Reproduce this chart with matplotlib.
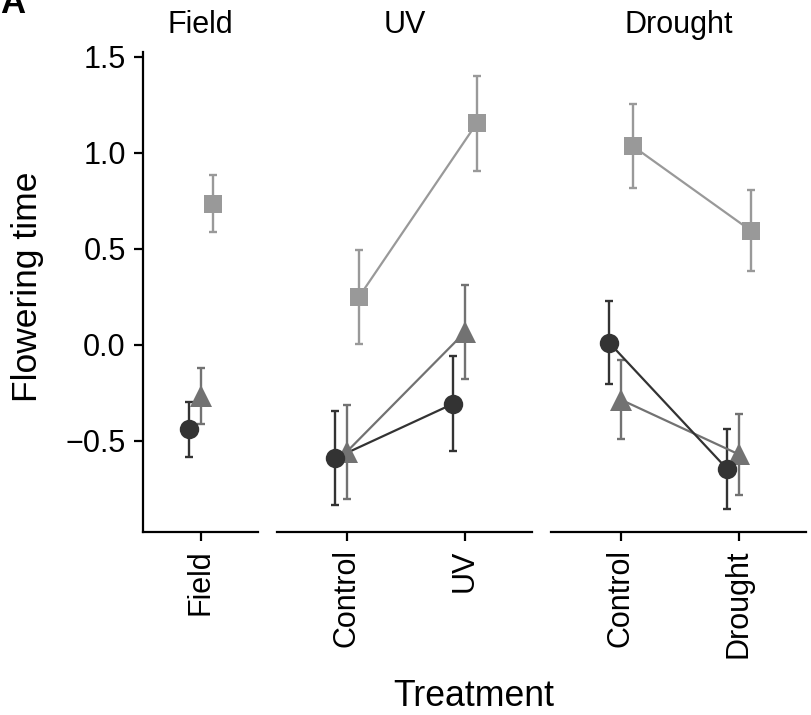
import matplotlib
matplotlib.use("Agg")
import matplotlib.pyplot as plt

plt.rcParams['font.family'] = ['Liberation Sans', 'DejaVu Sans']

# ---- data ----
panels = ["Field", "UV", "Drought"]
panel_categories = {
    "Field": ["Field"],
    "UV": ["Control", "UV"],
    "Drought": ["Control", "Drought"],
}
series_names = ["circle", "triangle", "square"]

circle_mean = {"Field": [-0.44], "UV": [-0.59, -0.306], "Drought": [0.012, -0.646]}
circle_err = {"Field": [0.145], "UV": [0.245, 0.247], "Drought": [0.217, 0.21]}
triangle_mean = {"Field": [-0.265], "UV": [-0.555, 0.067], "Drought": [-0.285, -0.57]}
triangle_err = {"Field": [0.145], "UV": [0.245, 0.245], "Drought": [0.205, 0.21]}
square_mean = {"Field": [0.735], "UV": [0.249, 1.155], "Drought": [1.036, 0.596]}
square_err = {"Field": [0.148], "UV": [0.245, 0.248], "Drought": [0.217, 0.21]}

y_ticks = [-0.5, 0.0, 0.5, 1.0, 1.5]
y_tick_labels = ["\u22120.5", "0.0", "0.5", "1.0", "1.5"]

# ---- style ----
W, H = 811, 715
fig = plt.figure(figsize=(W / 100, H / 100), dpi=100)

styles = {
    "triangle": dict(color="#727272", marker="^", ms=16, offset=0.0),
    "square": dict(color="#999999", marker="s", ms=13.5, offset=0.1),
    "circle": dict(color="#333333", marker="o", ms=14, offset=-0.1),
}
series_data = {
    "circle": (circle_mean, circle_err),
    "triangle": (triangle_mean, triangle_err),
    "square": (square_mean, square_err),
}

panel_px = {"Field": (143, 258), "UV": (277, 532), "Drought": (551, 806)}
top_px, bottom_px = 52, 532
ylim = (-0.974, 1.526)

draw_order = ["square", "triangle", "circle"]

for p in panels:
    l, r = panel_px[p]
    ax = fig.add_axes([l / W, 1 - bottom_px / H, (r - l) / W, (bottom_px - top_px) / H])
    cats = panel_categories[p]
    n = len(cats)
    if n == 1:
        ax.set_xlim(-0.49, 0.485)
    else:
        ax.set_xlim(-0.593, 1.568)
    ax.set_ylim(*ylim)
    for s in draw_order:
        st = styles[s]
        means, errs = series_data[s]
        xs = [i + st["offset"] for i in range(n)]
        ys = means[p]
        es = errs[p]
        ax.errorbar(xs, ys, yerr=es, fmt="none", ecolor=st["color"],
                    elinewidth=1.7, capsize=3, capthick=1.7, zorder=2)
        if n > 1:
            ax.plot(xs, ys, color=st["color"], lw=1.6, zorder=3)
        ax.plot(xs, ys, linestyle="none", marker=st["marker"], ms=st["ms"],
                color=st["color"], markeredgewidth=0, zorder=4)
    for side in ["top", "right"]:
        ax.spines[side].set_visible(False)
    ax.spines["bottom"].set_linewidth(1.6)
    ax.spines["left"].set_linewidth(1.6)
    ax.set_xticks(range(n))
    ax.set_xticklabels(cats, rotation=90, fontsize=22)
    ax.tick_params(axis="both", length=6.5, width=1.6, color="black",
                   labelsize=22, labelcolor="black", pad=6)
    if p == "Field":
        ax.set_yticks(y_ticks)
        ax.set_yticklabels(y_tick_labels)
    else:
        ax.spines["left"].set_visible(False)
        ax.set_yticks([])
    ax.patch.set_alpha(0)
    # strip label
    ax.text(0.5, 1 + 19 / (bottom_px - top_px), p, transform=ax.transAxes,
            ha="center", va="baseline", fontsize=22)

fig.text(28 / W, 1 - 287 / H, "Flowering time", rotation=90, ha="center",
         va="center", fontsize=25.5)
fig.text(474 / W, 1 - 706 / H, "Treatment", ha="center", va="baseline",
         fontsize=25.7)
fig.text(0, 1 - 13 / H, "A", ha="left", va="baseline", fontsize=25,
         fontweight="bold")

fig.savefig("out.png", dpi=100, facecolor="white")
